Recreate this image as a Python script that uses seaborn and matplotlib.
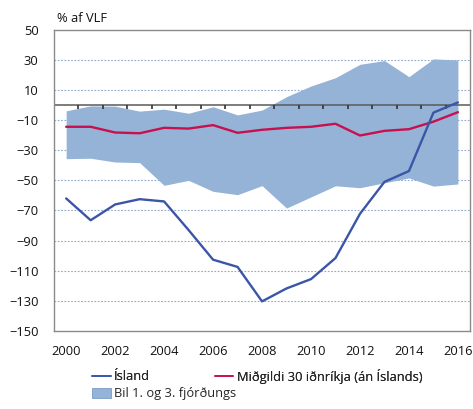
import numpy as np
import pandas as pd
import matplotlib
matplotlib.use("Agg")
import matplotlib.pyplot as plt
import seaborn as sns
from matplotlib.lines import Line2D
from matplotlib.patches import Patch

years = list(range(2000, 2017))
island = [-62, -76.5, -66, -62.5, -64, -83, -102.7, -107.5, -130.4, -121.8, -115.6,
          -101.6, -72.2, -51, -43.8, -5, 1.8]
median = [-14.4, -14.4, -18.2, -18.7, -15.1, -15.6, -13.3, -18.4, -16.4, -15.1, -14.4,
          -12.4, -20.2, -17.1, -16, -11, -4.7]
q3 = [-3.8, -0.5, -0.7, -4, -2.7, -5.4, -1.1, -6.5, -3.3, 5.6, 12.7, 18.2, 27.1, 29.6,
      18.9, 30.7, 30]
q1 = [-35.6, -35.3, -37.8, -38.2, -53.3, -50, -57.3, -59.5, -53.5, -68.4, -61, -53.6,
      -54.9, -51.6, -48.4, -53.8, -52.4]
yticks = list(range(-150, 51, 20))
xticks = list(range(2000, 2017, 2))
ylabel = "% af VLF"
lab_island = "Ísland"
lab_median = "Miðgildi 30 iðnríkja (án Íslands)"
lab_band = "Bil 1. og 3. fjórðungs"

sns.set_style("white")
plt.rcParams["font.family"] = ["Open Sans", "DejaVu Sans"]

df = pd.DataFrame({"year": years, "island": island, "median": median, "q1": q1, "q3": q3})

fig = plt.figure(figsize=(4.73, 4.09), dpi=100)
ax = fig.add_axes([0.114, 0.191, 0.880, 0.736])

band_c = "#95B3D7"
isl_c = "#3B55A8"
med_c = "#C8104F"
fs = 9.3

ax.fill_between(df["year"], df["q1"], df["q3"], color=band_c, lw=0, zorder=1)
for v in yticks:
    if v not in (-150, 50):
        ax.axhline(v, color="#8FA8D0", lw=0.8, ls=(0, (1.5, 1.5)), zorder=0)

# zero axis line with tick marks between categories
ax.axhline(0, color="#5a5a5a", lw=1.1, zorder=2)
half = np.array(years[:-1]) + 0.5
ax.vlines(half, -2.7, 0, colors="#333333", lw=1.2, zorder=2.5)

sns.lineplot(data=df, x="year", y="median", color=med_c, lw=1.7, ax=ax, zorder=3)
sns.lineplot(data=df, x="year", y="island", color=isl_c, lw=1.7, ax=ax, zorder=4)

ax.set_xlim(1999.5, 2016.5)
ax.set_ylim(-150, 50)
ax.set_yticks(yticks)
ax.set_xticks(xticks)
ax.set_xlabel("")
ax.set_ylabel("")
ax.tick_params(axis="both", length=0, labelsize=fs, colors="#111111")
ax.tick_params(axis="x", pad=10)
ax.tick_params(axis="y", pad=11)
for s in ax.spines.values():
    s.set_color("#8a8a8a")
    s.set_linewidth(1)

fig.text(57 / 473, 1 - 18 / 409, ylabel, fontsize=fs, va="center", ha="left", color="#111111")

h1 = [Line2D([], [], color=isl_c, lw=1.2), Line2D([], [], color=med_c, lw=1.2)]
leg1 = fig.legend(h1, [lab_island, lab_median], ncol=2, loc="center left",
                  bbox_to_anchor=(92 / 473, 1 - 376 / 409), frameon=False, fontsize=fs,
                  handlelength=1.45, handletextpad=0.25, columnspacing=5.0,
                  borderaxespad=0, borderpad=0)
h2 = [Patch(facecolor=band_c, edgecolor="#7a9cc8", lw=0.6)]
leg2 = fig.legend(h2, [lab_band], loc="center left",
                  bbox_to_anchor=(92 / 473, 1 - 394 / 409), frameon=False, fontsize=fs,
                  handlelength=1.45, handletextpad=0.25, borderaxespad=0, borderpad=0)
fig.add_artist(leg1)

fig.savefig("out.png", dpi=100)
